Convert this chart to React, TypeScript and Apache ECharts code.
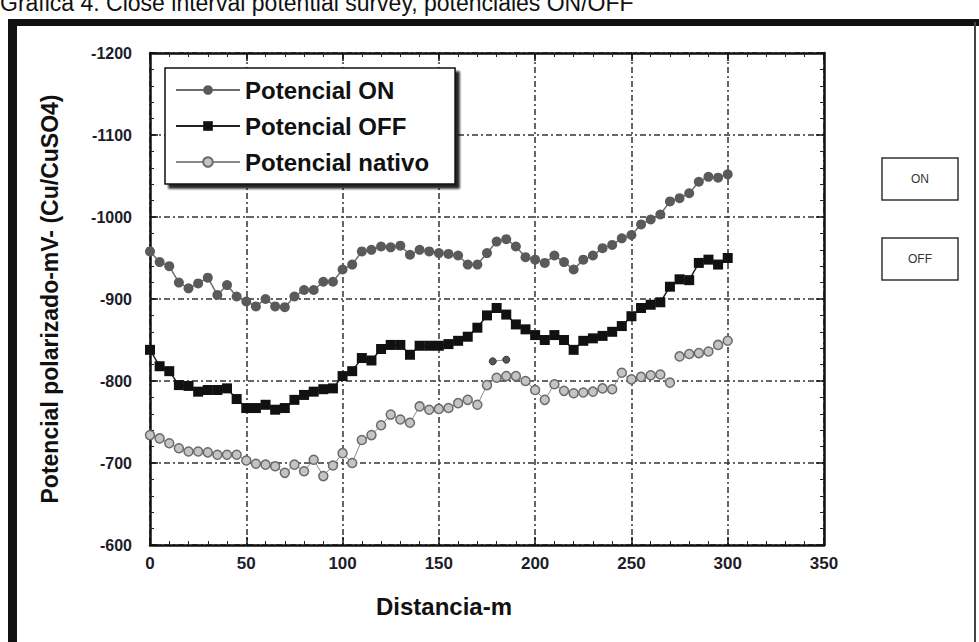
import React, { useEffect, useRef } from "react";
import * as echarts from "echarts";

// Survey stations (m)
const DISTANCE_M = [
  0, 5, 10, 15, 20, 25, 30, 35, 40, 45, 50, 55, 60, 65, 70, 75, 80, 85, 90, 95,
  100, 105, 110, 115, 120, 125, 130, 135, 140, 145, 150, 155, 160, 165, 170, 175,
  180, 185, 190, 195, 200, 205, 210, 215, 220, 225, 230, 235, 240, 245, 250, 255,
  260, 265, 270, 275, 280, 285, 290, 295, 300,
];

// Polarized potential, mV vs Cu/CuSO4
const POT_ON = [
  -958, -945, -940, -920, -913, -919, -926, -905, -917, -903, -897, -891, -900, -891,
  -890, -903, -911, -911, -921, -921, -936, -942, -958, -960, -964, -963, -965, -954,
  -960, -958, -956, -955, -953, -942, -942, -956, -970, -973, -964, -951, -948, -944,
  -953, -945, -936, -948, -953, -962, -966, -974, -978, -991, -997, -1003, -1019,
  -1023, -1029, -1043, -1049, -1048, -1052,
];

const POT_OFF = [
  -838, -818, -812, -795, -794, -787, -789, -789, -791, -778, -767, -767, -771, -765,
  -767, -777, -783, -787, -790, -791, -806, -812, -828, -825, -839, -844, -844, -832,
  -843, -843, -843, -845, -849, -854, -865, -880, -889, -881, -869, -863, -856, -850,
  -856, -850, -838, -849, -852, -855, -860, -867, -879, -889, -893, -896, -915, -924,
  -923, -944, -948, -942, -950,
];

const POT_NATIVO = [
  -734, -730, -724, -718, -714, -714, -713, -710, -710, -710, -703, -699, -698, -696,
  -688, -698, -690, -704, -684, -697, -712, -700, -728, -734, -746, -759, -753, -749,
  -769, -765, -766, -767, -773, -777, -771, -795, -804, -806, -806, -800, -789, -777,
  -796, -788, -785, -786, -787, -791, -790, -810, -802, -805, -807, -808, -798, -830,
  -833, -834, -836, -844, -849,
];
// the native-potential trace is interrupted after this station
const NATIVO_BREAK_AFTER = 270;
// short separate native-potential reading pair
const NATIVO_EXTRA_X = [178, 185];
const NATIVO_EXTRA = [-824, -826];

const X_TICKS = [0, 50, 100, 150, 200, 250, 300, 350];
const Y_TICKS = [-1200, -1100, -1000, -900, -800, -700, -600];

const FONT = "'Liberation Sans', Arial, sans-serif";

export default function App() {
  const ref = useRef<HTMLDivElement>(null);

  useEffect(() => {
    if (!ref.current) return;
    const chart = echarts.init(ref.current, undefined, { renderer: "svg" });

    const onData = DISTANCE_M.map((d, i) => [d, POT_ON[i]]);
    const offData = DISTANCE_M.map((d, i) => [d, POT_OFF[i]]);
    const natData: any[] = [];
    DISTANCE_M.forEach((d, i) => {
      natData.push([d, POT_NATIVO[i]]);
      if (d === NATIVO_BREAK_AFTER) natData.push([d + 2.5, "-"]);
    });
    const natExtra = NATIVO_EXTRA_X.map((d, i) => [d, NATIVO_EXTRA[i]]);

    const xMin = X_TICKS[0];
    const xMax = X_TICKS[X_TICKS.length - 1];
    const xStep = X_TICKS[1] - X_TICKS[0];
    const yMin = Y_TICKS[0];
    const yMax = Y_TICKS[Y_TICKS.length - 1];
    const yStep = Y_TICKS[1] - Y_TICKS[0];

    const axisLine = { show: true, onZero: false, lineStyle: { color: "#111", width: 2.5 } };
    const axisTick = { show: true, inside: true, length: 8, lineStyle: { color: "#111", width: 1.5 } };
    const minorTick = { show: true, splitNumber: 5, length: 4, lineStyle: { color: "#222", width: 1 } };
    const splitLine = {
      show: true,
      lineStyle: { color: "#333", width: 1.5, type: [6, 3, 2, 3] as any },
    };
    const labelStyle = {
      fontFamily: FONT,
      fontWeight: "bold" as const,
      fontSize: 16,
      color: "#1c1c2a",
    };

    const natStyle = {
      symbol: "circle",
      symbolSize: 9,
      itemStyle: { color: "#c4c4c4", borderColor: "#6a6a6a", borderWidth: 1.5 },
      lineStyle: { color: "#8a8a8a", width: 1 },
    };

    chart.setOption({
      animation: false,
      backgroundColor: "#ffffff",
      grid: { left: 150, right: 155, top: 53, bottom: 97, containLabel: false },
      legend: {
        data: ["Potencial ON", "Potencial OFF", "Potencial nativo"],
        orient: "vertical",
        left: 165,
        top: 68,
        itemWidth: 64,
        itemHeight: 12,
        itemGap: 12,
        padding: [10, 26, 10, 10],
        backgroundColor: "#ffffff",
        borderColor: "#111",
        borderWidth: 1.5,
        borderRadius: 0,
        shadowColor: "rgba(0,0,0,0.85)",
        shadowBlur: 2,
        shadowOffsetX: 4,
        shadowOffsetY: 4,
        textStyle: { fontFamily: FONT, fontWeight: "bold", fontSize: 24, color: "#111" },
      },
      xAxis: [
        {
          type: "value",
          min: xMin,
          max: xMax,
          interval: xStep,
          position: "bottom",
          axisLine,
          axisTick,
          minorTick,
          splitLine,
          axisLabel: { ...labelStyle, fontSize: 17, margin: 10, formatter: (v: number) => String(v) },
        },
        {
          type: "value",
          min: xMin,
          max: xMax,
          interval: xStep,
          position: "top",
          axisLine,
          axisTick,
          minorTick,
          splitLine: { show: false },
          axisLabel: { show: false },
        },
      ],
      yAxis: [
        {
          type: "value",
          min: yMin,
          max: yMax,
          interval: yStep,
          inverse: true,
          position: "left",
          axisLine,
          axisTick,
          minorTick,
          splitLine,
          axisLabel: { ...labelStyle, margin: 18, formatter: (v: number) => String(v) },
        },
        {
          type: "value",
          min: yMin,
          max: yMax,
          interval: yStep,
          inverse: true,
          position: "right",
          axisLine,
          axisTick,
          minorTick,
          splitLine: { show: false },
          axisLabel: { show: false },
        },
      ],
      series: [
        {
          name: "Potencial ON",
          type: "line",
          data: onData,
          symbol: "circle",
          symbolSize: 10,
          itemStyle: { color: "#5a5a5a" },
          lineStyle: { color: "#6e6e6e", width: 1.5 },
          z: 3,
        },
        {
          name: "Potencial OFF",
          type: "line",
          data: offData,
          symbol: "rect",
          symbolSize: 10,
          itemStyle: { color: "#111" },
          lineStyle: { color: "#222", width: 1.5 },
          z: 4,
        },
        {
          name: "Potencial nativo",
          type: "line",
          data: natData,
          connectNulls: false,
          ...natStyle,
          z: 2,
        },
        {
          name: "Potencial nativo",
          type: "line",
          data: natExtra,
          ...natStyle,
          itemStyle: { color: "#555", borderColor: "#333", borderWidth: 1 },
          symbolSize: 7,
          z: 2,
        },
      ],
      graphic: [
        {
          type: "text",
          left: 0,
          top: -9,
          style: {
            text: "Gráfica 4. Close interval potential survey, potenciales ON/OFF",
            font: `23px ${FONT}`,
            fill: "#111",
          },
        },
        { type: "rect", shape: { x: 8, y: 19, width: 971, height: 7 }, style: { fill: "#111" } },
        { type: "rect", shape: { x: 8, y: 19, width: 9, height: 623 }, style: { fill: "#111" } },
        {
          type: "line",
          shape: { x1: 975, y1: 22, x2: 975, y2: 642 },
          style: { stroke: "#444", lineWidth: 2 },
        },
        {
          type: "text",
          x: 50,
          y: 299,
          rotation: Math.PI / 2,
          style: {
            text: "Potencial polarizado-mV- (Cu/CuSO4)",
            font: `bold 23px ${FONT}`,
            fill: "#111",
            align: "center",
            verticalAlign: "middle",
          },
        },
        {
          type: "text",
          x: 444,
          y: 606,
          style: {
            text: "Distancia-m",
            font: `bold 24px ${FONT}`,
            fill: "#111",
            align: "center",
            verticalAlign: "middle",
          },
        },
        {
          type: "group",
          children: [
            {
              type: "rect",
              shape: { x: 882, y: 158, width: 76, height: 42 },
              style: { fill: "#fff", stroke: "#333", lineWidth: 1.5 },
            },
            {
              type: "text",
              x: 920,
              y: 179,
              style: {
                text: "ON",
                font: `12px ${FONT}`,
                fill: "#333",
                align: "center",
                verticalAlign: "middle",
              },
            },
            {
              type: "rect",
              shape: { x: 882, y: 238, width: 76, height: 42 },
              style: { fill: "#fff", stroke: "#333", lineWidth: 1.5 },
            },
            {
              type: "text",
              x: 920,
              y: 259,
              style: {
                text: "OFF",
                font: `12px ${FONT}`,
                fill: "#333",
                align: "center",
                verticalAlign: "middle",
              },
            },
          ],
        },
      ],
    });

    return () => chart.dispose();
  }, []);

  return (
    <div
      ref={ref}
      style={{ position: "fixed", left: 0, top: 0, width: 979, height: 642, background: "#fff" }}
    />
  );
}
